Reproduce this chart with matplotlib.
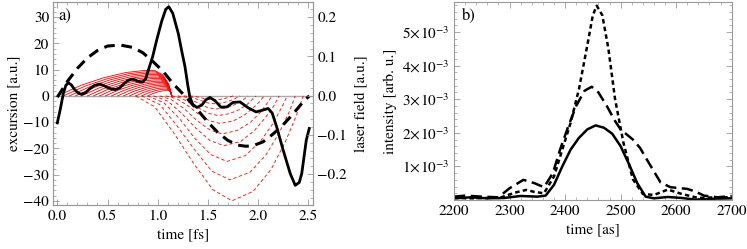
import matplotlib
matplotlib.use("Agg")
import matplotlib.pyplot as plt
from matplotlib.ticker import FixedLocator, MultipleLocator, FuncFormatter

plt.rcParams['font.family'] = ['STIXGeneral', 'DejaVu Serif']
plt.rcParams['mathtext.fontset'] = 'stix'
plt.rcParams['font.size'] = 11

# ---------------- panel a data ----------------
# laser field (solid black), in excursion-axis units
field_t = [0.00, 0.03, 0.06, 0.085, 0.11, 0.14, 0.17, 0.205, 0.24, 0.28, 0.32, 0.37, 0.42, 0.46, 0.50,
           0.54, 0.575, 0.62, 0.66, 0.70, 0.74, 0.77, 0.80, 0.85, 0.88, 0.90, 0.95, 0.99, 1.04, 1.08,
           1.11, 1.15, 1.205, 1.24, 1.272, 1.30, 1.32, 1.35, 1.39, 1.44, 1.48, 1.52, 1.57, 1.63, 1.69,
           1.75, 1.82, 1.90, 1.98, 2.04, 2.10, 2.14, 2.185, 2.25, 2.32, 2.37, 2.41, 2.435, 2.48, 2.51]
field_x = [-10.3, -5.0, 0.9, 4.0, 5.0, 4.2, 2.5, 1.2, 0.6, 1.2, 2.6, 4.0, 4.5, 4.0, 3.2,
           2.6, 2.4, 3.0, 4.5, 5.8, 6.4, 6.2, 5.6, 5.3, 6.5, 9.0, 15.0, 21.3, 28.5, 33.0,
           34.0, 31.5, 23.8, 17.0, 11.1, 4.0, -0.4, -3.3, -4.4, -3.5, -1.5, -0.6, -1.8, -4.3, -4.2,
           -2.5, -2.3, -4.5, -6.1, -5.5, -4.8, -6.5, -11.8, -20.7, -29.6, -34.1, -33.0, -29.6, -16.9, -12.4]

# vector-potential-like curve (dashed black)
pot_t = [0.0, 0.1, 0.2, 0.3, 0.4, 0.5, 0.625, 0.75, 0.85, 0.95, 1.05, 1.15, 1.27, 1.4, 1.5,
         1.6, 1.7, 1.8, 1.88, 1.95, 2.05, 2.15, 2.25, 2.35, 2.45, 2.51]
pot_x = [-0.5, 5.5, 10.5, 14.5, 17.3, 19.0, 19.4, 18.5, 16.5, 13.2, 9.5, 4.8, 0.0, -5.5, -10.0,
         -14.0, -17.0, -18.8, -19.2, -19.0, -17.5, -14.5, -11.0, -6.8, -2.2, 0.0]

# short trajectories (solid red), all returning at t = 1.14 fs
short_t = [
    [0.00, 0.228, 0.456, 0.684, 0.855, 0.969, 1.049, 1.106, 1.14],
    [0.06, 0.276, 0.492, 0.708, 0.870, 0.978, 1.054, 1.108, 1.14],
    [0.12, 0.324, 0.528, 0.732, 0.885, 0.987, 1.058, 1.109, 1.14],
    [0.18, 0.372, 0.564, 0.756, 0.900, 0.996, 1.063, 1.111, 1.14],
    [0.24, 0.420, 0.600, 0.780, 0.915, 1.005, 1.068, 1.113, 1.14],
    [0.30, 0.468, 0.636, 0.804, 0.930, 1.014, 1.073, 1.115, 1.14],
    [0.36, 0.516, 0.672, 0.828, 0.945, 1.023, 1.078, 1.117, 1.14],
    [0.42, 0.564, 0.708, 0.852, 0.960, 1.032, 1.082, 1.118, 1.14],
    [0.48, 0.612, 0.744, 0.876, 0.975, 1.041, 1.087, 1.120, 1.14],
    [0.54, 0.660, 0.780, 0.900, 0.990, 1.050, 1.092, 1.122, 1.14],
    [0.60, 0.708, 0.816, 0.924, 1.005, 1.059, 1.097, 1.124, 1.14],
    [0.66, 0.756, 0.852, 0.948, 1.020, 1.068, 1.102, 1.126, 1.14],
    [0.72, 0.804, 0.888, 0.972, 1.035, 1.077, 1.106, 1.127, 1.14],
    [0.78, 0.852, 0.924, 0.996, 1.050, 1.086, 1.111, 1.129, 1.14],
    [0.84, 0.900, 0.960, 1.020, 1.065, 1.095, 1.116, 1.131, 1.14],
    [0.90, 0.948, 0.996, 1.044, 1.080, 1.104, 1.121, 1.133, 1.14],
]
short_x = [
    [0, 3.92, 6.86, 8.92, 9.65, 9.70, 8.04, 4.61, 0],
    [0, 3.71, 6.50, 8.45, 9.14, 9.19, 7.61, 4.36, 0],
    [0, 3.51, 6.14, 7.98, 8.64, 8.68, 7.19, 4.12, 0],
    [0, 3.30, 5.78, 7.51, 8.13, 8.17, 6.77, 3.88, 0],
    [0, 3.10, 5.42, 7.04, 7.62, 7.66, 6.35, 3.64, 0],
    [0, 2.89, 5.05, 6.57, 7.11, 7.15, 5.92, 3.39, 0],
    [0, 2.68, 4.70, 6.11, 6.61, 6.64, 5.50, 3.15, 0],
    [0, 2.48, 4.33, 5.63, 6.10, 6.13, 5.08, 2.91, 0],
    [0, 2.27, 3.97, 5.16, 5.58, 5.61, 4.65, 2.66, 0],
    [0, 2.06, 3.61, 4.70, 5.08, 5.11, 4.23, 2.43, 0],
    [0, 1.86, 3.25, 4.22, 4.57, 4.59, 3.80, 2.18, 0],
    [0, 1.65, 2.89, 3.76, 4.07, 4.09, 3.39, 1.94, 0],
    [0, 1.44, 2.53, 3.29, 3.56, 3.57, 2.96, 1.70, 0],
    [0, 1.24, 2.16, 2.81, 3.04, 3.06, 2.53, 1.45, 0],
    [0, 1.03, 1.81, 2.35, 2.54, 2.55, 2.12, 1.21, 0],
    [0, 0.82, 1.44, 1.87, 2.03, 2.04, 1.69, 0.97, 0],
]

# later trajectories (dashed red)
long_t = [
    [0.78, 0.97, 1.16, 1.36, 1.55, 1.74, 1.95, 2.13, 2.27, 2.38, 2.45],
    [0.84, 1.02, 1.19, 1.37, 1.54, 1.72, 1.92, 2.08, 2.21, 2.31, 2.37],
    [0.90, 1.06, 1.22, 1.37, 1.53, 1.69, 1.87, 2.02, 2.14, 2.23, 2.29],
    [0.96, 1.10, 1.24, 1.38, 1.52, 1.66, 1.83, 1.96, 2.07, 2.16, 2.21],
    [1.02, 1.14, 1.27, 1.39, 1.52, 1.64, 1.79, 1.92, 2.02, 2.09, 2.14],
    [1.08, 1.19, 1.30, 1.40, 1.51, 1.62, 1.75, 1.86, 1.95, 2.02, 2.06],
    [1.14, 1.23, 1.32, 1.42, 1.51, 1.60, 1.71, 1.81, 1.89, 1.94, 1.98],
    [1.20, 1.28, 1.35, 1.43, 1.50, 1.58, 1.68, 1.76, 1.82, 1.87, 1.90],
    [1.26, 1.32, 1.38, 1.44, 1.50, 1.56, 1.64, 1.70, 1.76, 1.79, 1.82],
    [1.32, 1.37, 1.41, 1.46, 1.50, 1.55, 1.61, 1.66, 1.70, 1.73, 1.75],
]
long_x = [
    [0, -4.2, -14.1, -25.9, -35.8, -40.0, -36.4, -28.0, -17.6, -7.6, 0],
    [0, -3.3, -11.3, -20.7, -28.7, -32.0, -29.1, -22.4, -14.1, -6.1, 0],
    [0, -2.6, -8.8, -16.2, -22.4, -25.0, -22.8, -17.5, -11.0, -4.8, 0],
    [0, -2.0, -6.7, -12.3, -17.0, -19.0, -17.3, -13.3, -8.4, -3.6, 0],
    [0, -1.5, -5.1, -9.4, -13.0, -14.5, -13.2, -10.2, -6.4, -2.8, 0],
    [0, -1.1, -3.7, -6.8, -9.4, -10.5, -9.6, -7.4, -4.6, -2.0, 0],
    [0, -0.8, -2.6, -4.9, -6.7, -7.5, -6.8, -5.3, -3.3, -1.4, 0],
    [0, -0.5, -1.8, -3.2, -4.5, -5.0, -4.6, -3.5, -2.2, -1.0, 0],
    [0, -0.3, -1.1, -1.9, -2.7, -3.0, -2.7, -2.1, -1.3, -0.6, 0],
    [0, -0.2, -0.5, -1.0, -1.3, -1.5, -1.4, -1.05, -0.66, -0.3, 0],
]

# ---------------- panel b data ----------------
solid_t = [2200, 2230, 2260, 2290, 2320, 2350, 2365, 2380, 2395, 2410, 2425, 2440, 2455, 2470,
           2485, 2500, 2515, 2530, 2545, 2560, 2585, 2610, 2635, 2670, 2700]
solid_i = [0.05, 0.08, 0.05, 0.06, 0.12, 0.10, 0.13, 0.45, 1.0, 1.5, 1.85, 2.1, 2.22, 2.15,
           1.97, 1.6, 1.07, 0.5, 0.1, 0.05, 0.09, 0.06, 0.01, 0.04, 0.05]

dash_t = [2200, 2220, 2250, 2280, 2300, 2325, 2345, 2362, 2378, 2391, 2406, 2420, 2435, 2448,
          2460, 2475, 2490, 2500, 2522, 2535, 2547, 2560, 2572, 2590, 2620, 2635, 2650, 2675, 2700]
dash_i = [0.10, 0.13, 0.10, 0.08, 0.35, 0.60, 0.50, 0.38, 0.80, 1.50, 2.20, 2.80, 3.25, 3.37,
          3.20, 2.80, 2.35, 2.10, 1.80, 1.55, 1.21, 0.85, 0.52, 0.38, 0.33, 0.25, 0.13, 0.08, 0.12]

dot_t = [2200, 2230, 2260, 2285, 2310, 2330, 2345, 2362, 2380, 2395, 2410, 2425, 2440, 2450,
         2457, 2467, 2478, 2490, 2505, 2522, 2540, 2560, 2585, 2610, 2640, 2670, 2700]
dot_i = [0.06, 0.05, 0.06, 0.08, 0.22, 0.30, 0.24, 0.20, 0.70, 1.50, 2.30, 3.30, 4.60, 5.50,
         5.78, 5.50, 4.50, 3.00, 1.71, 0.62, 0.18, 0.15, 0.31, 0.18, 0.06, 0.08, 0.08]

a_yticks = [-40, -30, -20, -10, 0, 10, 20, 30]
a_xticks = [0.0, 0.5, 1.0, 1.5, 2.0, 2.5]
a_rticks = [-0.2, -0.1, 0.0, 0.1, 0.2]
b_xticks = [2200, 2300, 2400, 2500, 2600, 2700]
b_yticks = [1, 2, 3, 4, 5]

frame_col = '#999999'

W, H = 747, 249
fig = plt.figure(figsize=(W / 100, H / 100), dpi=100)

def style(ax):
    for s in ax.spines.values():
        s.set_color(frame_col)
        s.set_linewidth(0.8)
    ax.tick_params(which='both', direction='in', color=frame_col, labelcolor='black', pad=3)
    ax.tick_params(which='major', length=4, width=0.6)
    ax.tick_params(which='minor', length=2, width=0.5)

# ---------- panel a ----------
axa = fig.add_axes([53.3 / W, 1 - 205 / H, (313 - 53.3) / W, (205 - 2) / H])
axa.axhline(0, color='#aaaaaa', lw=1.0, zorder=1)
for tt, xx in zip(short_t, short_x):
    axa.plot(tt, xx, color='red', lw=0.6, zorder=2)
for tt, xx in zip(long_t, long_x):
    axa.plot(tt, xx, color='red', lw=0.6, ls=(0, (4, 3)), zorder=2)
axa.plot(pot_t, pot_x, color='black', lw=2.2, ls=(0, (3.5, 2.2)), zorder=3)
axa.plot(field_t, field_x, color='black', lw=2.0, zorder=4)
axa.set_xlim(-0.04, 2.547)
axa.set_ylim(-41.6, 35.8)
axa.xaxis.set_major_locator(FixedLocator(a_xticks))
axa.xaxis.set_minor_locator(MultipleLocator(0.1))
axa.yaxis.set_major_locator(FixedLocator(a_yticks))
axa.yaxis.set_minor_locator(MultipleLocator(2))
axa.xaxis.set_major_formatter(FuncFormatter(lambda v, p: f"{v:.1f}"))
axa.yaxis.set_major_formatter(FuncFormatter(lambda v, p: f"{int(round(v))}".replace('-', '\u2212')))
style(axa)
axa.tick_params(top=True, which='both')
axa.set_xlabel('time [fs]', labelpad=4)
axa.set_ylabel('excursion [a.u.]', labelpad=2)
axa.text(0.02, 0.97, 'a)', transform=axa.transAxes, ha='left', va='top', fontsize=12)

axr = axa.twinx()
axr.set_ylim(-0.279, 0.239)
axr.yaxis.set_major_locator(FixedLocator(a_rticks))
axr.yaxis.set_minor_locator(MultipleLocator(0.02))
axr.yaxis.set_major_formatter(FuncFormatter(lambda v, p: f"{v:.1f}".replace('-', '\u2212') if abs(v) > 1e-9 else "0.0"))
style(axr)
axr.set_ylabel('laser field [a.u.]', labelpad=6)

# ---------- panel b ----------
axb = fig.add_axes([454 / W, 1 - 200 / H, (731.7 - 454) / W, (200 - 1.7) / H])
axb.plot(solid_t, [v * 1e-3 for v in solid_i], color='black', lw=1.8)
axb.plot(dash_t, [v * 1e-3 for v in dash_i], color='black', lw=1.8, ls=(0, (4.5, 2.2)))
axb.plot(dot_t, [v * 1e-3 for v in dot_i], color='black', lw=1.8, ls=(0, (1.8, 1.3)))
axb.set_xlim(2200, 2700)
axb.set_ylim(0, 5.9e-3)
axb.xaxis.set_major_locator(FixedLocator(b_xticks))
axb.xaxis.set_minor_locator(MultipleLocator(20))
axb.yaxis.set_major_locator(FixedLocator([v * 1e-3 for v in b_yticks]))
axb.yaxis.set_minor_locator(MultipleLocator(0.2e-3))
axb.yaxis.set_major_formatter(FuncFormatter(lambda v, p: r"$%d\!\times\!10^{-3}$" % int(round(v * 1e3))))
style(axb)
axb.tick_params(top=True, right=True, which='both')
axb.set_xlabel('time [as]', labelpad=4)
axb.set_ylabel('intensity [arb. u.]', labelpad=4)
axb.text(0.03, 0.97, 'b)', transform=axb.transAxes, ha='left', va='top', fontsize=12)

fig.savefig('out.png', dpi=100)
